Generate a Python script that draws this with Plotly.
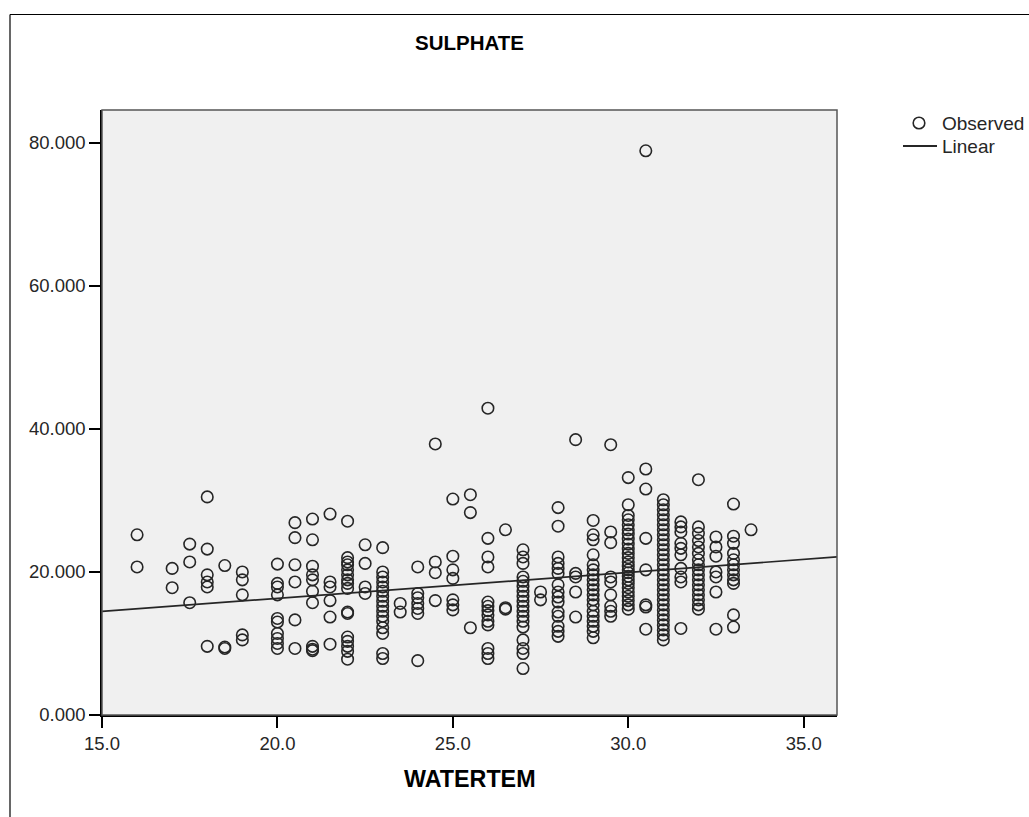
import plotly.graph_objects as go

# ---- data (WATERTEM vs SULPHATE) ----
watertem = []
sulphate = []

def add(t, vals):
    for v in vals:
        watertem.append(t)
        sulphate.append(v)

add(16.0, [25.2, 20.7])
add(17.0, [20.5, 17.8])
add(17.5, [23.9, 21.4, 15.7])
add(18.0, [30.5, 23.2, 19.6, 18.6, 17.9, 9.6])
add(18.5, [20.9, 9.5, 9.3])
add(19.0, [20.0, 18.9, 16.8, 11.2, 10.5])
add(20.0, [21.1, 18.4, 17.9, 16.8, 13.5, 13.0, 11.4, 10.7, 10.0, 9.3])
add(20.5, [26.9, 24.8, 21.0, 18.6, 13.3, 9.3])
add(21.0, [27.4, 24.5, 20.8, 19.6, 18.9, 17.3, 15.7, 9.6, 9.2, 9.0])
add(21.5, [28.1, 18.6, 17.9, 16.0, 13.7, 9.9])
add(22.0, [27.1, 22.0, 21.4, 21.0, 20.3, 19.6, 18.9, 18.4, 17.7, 14.4, 14.2,
           10.9, 10.3, 9.6, 8.9, 7.8])
add(22.5, [23.8, 21.2, 17.9, 17.0])
add(23.0, [23.4, 20.0, 19.3, 18.6, 17.9, 17.3, 16.6, 15.9, 15.2, 14.5, 13.8,
           13.1, 12.2, 11.4, 8.6, 7.9])
add(23.5, [15.6, 14.4])
add(24.0, [20.7, 17.0, 16.4, 15.6, 14.9, 14.2, 7.6])
add(24.5, [37.9, 21.4, 19.9, 16.0])
add(25.0, [30.2, 22.2, 20.3, 19.1, 16.1, 15.4, 14.7])
add(25.5, [30.8, 28.3, 12.2])
add(26.0, [42.9, 24.7, 22.1, 20.7, 15.8, 15.2, 14.6, 14.0, 13.1, 12.6, 9.3, 8.6, 7.9])
add(26.5, [25.9, 15.0, 14.8])
add(27.0, [23.1, 22.1, 21.2, 19.3, 18.7, 18.0, 17.3, 16.6, 15.9, 15.2, 14.5,
           13.8, 13.1, 12.3, 10.5, 9.3, 8.6, 6.5])
add(27.5, [17.2, 16.1])
add(28.0, [29.0, 26.4, 22.1, 21.2, 20.5, 19.8, 18.2, 17.2, 16.5, 15.8, 14.4,
           13.8, 12.4, 11.7, 11.0])
add(28.5, [38.5, 19.8, 19.3, 17.2, 13.7])
add(29.0, [27.2, 25.2, 24.5, 22.4, 21.0, 20.3, 19.6, 18.9, 18.2, 17.5, 16.8,
           16.1, 15.4, 14.5, 13.8, 13.1, 12.4, 11.7, 10.8])
add(29.5, [37.8, 25.6, 24.1, 19.3, 18.6, 16.8, 15.2, 14.5, 13.8])
add(30.0, [33.2, 29.4, 27.9, 27.3, 26.6, 25.9, 25.3, 24.6, 23.9, 23.2, 22.6,
           22.0, 21.4, 20.8, 20.3, 19.9, 19.4, 18.9, 18.4, 17.8, 17.2, 16.6,
           16.0, 15.4, 14.8])
add(30.5, [78.9, 34.4, 31.6, 24.7, 20.3, 15.4, 15.1, 12.0])
add(31.0, [30.1, 29.4, 28.7, 28.0, 27.3, 26.6, 25.9, 25.2, 24.5, 23.8, 23.1,
           22.4, 21.7, 21.0, 20.3, 19.6, 18.9, 18.2, 17.5, 16.8, 16.1, 15.4,
           14.7, 14.0, 13.3, 12.6, 11.9, 11.2, 10.5])
add(31.5, [27.0, 26.3, 25.6, 24.0, 23.3, 22.4, 20.5, 19.3, 18.6, 12.1])
add(32.0, [32.9, 26.3, 25.4, 24.4, 23.5, 22.6, 21.7, 21.0, 20.3, 19.6, 18.9,
           18.2, 17.5, 16.8, 16.1, 15.4, 14.8])
add(32.5, [24.9, 23.5, 22.2, 20.0, 19.3, 17.2, 12.0])
add(33.0, [29.5, 25.0, 24.0, 22.6, 21.7, 21.0, 20.3, 19.6, 18.9, 18.4, 14.0, 12.3])
add(33.5, [25.9])

# linear fit line endpoints
fit_x = [15.0, 35.95]
fit_y = [14.5, 22.1]

x_ticks = [15, 20, 25, 30, 35]
y_ticks = [0, 20, 40, 60, 80]
legend_labels = ["Observed", "Linear"]

FONT = "Arial, Liberation Sans, sans-serif"
INK = "#262626"
TICK_SIZE = 18.5

fig = go.Figure()
fig.add_trace(go.Scatter(
    x=watertem, y=sulphate, mode="markers", name=legend_labels[0],
    marker=dict(symbol="circle-open", size=11.5, color=INK,
                line=dict(width=1.6, color=INK)),
    cliponaxis=False, showlegend=False,
))
fig.add_trace(go.Scatter(
    x=fit_x, y=fit_y, mode="lines", name=legend_labels[1],
    line=dict(color=INK, width=1.7), showlegend=False,
))

L, R, T, B = 102, 192, 110, 102
W, H = 1029, 817
pw, ph = W - L - R, H - T - B

def px2paper_x(px):
    return (px - L) / pw

def px2paper_y(py):
    return (H - B - py) / ph

# manual legend (paper coordinates)
leg_marker_x, leg_row1_y, leg_row2_y, leg_text_x = 919, 123, 146, 940

fig.update_layout(
    width=W, height=H,
    margin=dict(l=L, r=R, t=T, b=B, pad=0, autoexpand=False),
    paper_bgcolor="white",
    plot_bgcolor="#f0f0f0",
    font=dict(family=FONT, size=TICK_SIZE, color=INK),
    title=dict(text="<b>SULPHATE</b>", x=0.5, xref="paper",
               y=1 - 43 / H, yref="container", yanchor="middle",
               font=dict(family=FONT, size=20.5, color="black")),
    showlegend=False,
    xaxis=dict(range=[15, 35.95], tickvals=x_ticks, tickformat=".1f",
               showgrid=False, zeroline=False, showline=True,
               linecolor="black", linewidth=1.5, ticks="outside", ticklen=11,
               tickwidth=1.5, tickcolor="black",
               tickfont=dict(family=FONT, size=TICK_SIZE, color=INK)),
    yaxis=dict(range=[0, 84.6], tickvals=y_ticks, tickformat=".3f",
               showgrid=False, zeroline=False, showline=True,
               linecolor="black", linewidth=1.5, ticks="outside", ticklen=11,
               tickwidth=1.5, tickcolor="black",
               tickfont=dict(family=FONT, size=TICK_SIZE, color=INK)),
    annotations=[
        dict(text="<b>WATERTEM</b>", x=0.5, xref="paper",
             y=px2paper_y(779), yref="paper", yanchor="middle",
             showarrow=False, font=dict(family=FONT, size=23.3, color="black")),
        dict(text=legend_labels[0], x=px2paper_x(leg_text_x), xref="paper",
             y=px2paper_y(leg_row1_y), yref="paper", xanchor="left", yanchor="middle",
             showarrow=False, font=dict(family=FONT, size=19, color=INK)),
        dict(text=legend_labels[1], x=px2paper_x(leg_text_x), xref="paper",
             y=px2paper_y(leg_row2_y), yref="paper", xanchor="left", yanchor="middle",
             showarrow=False, font=dict(family=FONT, size=19, color=INK)),
    ],
    shapes=[
        # plot frame (top/right)
        dict(type="rect", xref="paper", yref="paper", x0=0, x1=1, y0=0, y1=1,
             line=dict(color="#555555", width=1.5), layer="above"),
        # outer chart border
        dict(type="line", xref="paper", yref="paper",
             x0=px2paper_x(10), x1=px2paper_x(1035),
             y0=px2paper_y(14.5), y1=px2paper_y(14.5),
             line=dict(color="black", width=1.2)),
        dict(type="line", xref="paper", yref="paper",
             x0=px2paper_x(10), x1=px2paper_x(10),
             y0=px2paper_y(14.5), y1=px2paper_y(825),
             line=dict(color="black", width=1.2)),
        # legend symbols
        dict(type="circle", xref="paper", yref="paper",
             x0=px2paper_x(leg_marker_x - 5.8), x1=px2paper_x(leg_marker_x + 5.8),
             y0=px2paper_y(leg_row1_y + 5.8), y1=px2paper_y(leg_row1_y - 5.8),
             line=dict(color=INK, width=1.6)),
        dict(type="line", xref="paper", yref="paper",
             x0=px2paper_x(903), x1=px2paper_x(937),
             y0=px2paper_y(leg_row2_y), y1=px2paper_y(leg_row2_y),
             line=dict(color=INK, width=1.8)),
    ],
)

fig.write_html("out.html")
